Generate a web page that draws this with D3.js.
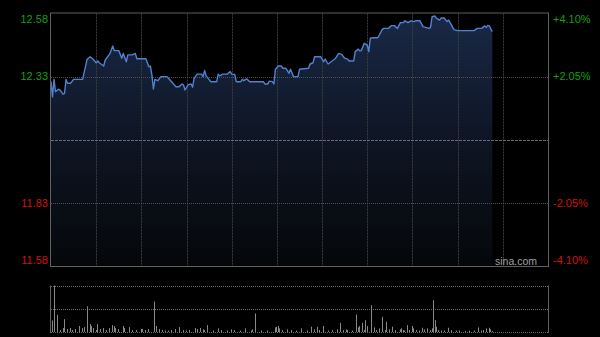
<!DOCTYPE html>
<html><head><meta charset="utf-8">
<script src="https://cdn.jsdelivr.net/npm/d3@7"></script>
<style>html,body{margin:0;padding:0;background:#000;}svg{display:block;}</style>
</head><body>
<script>
// ---- data ----
const priceMinutes = [0,1,2,3,5,6,8,9,10,11,13,15,21,24,26,28,30,31,32,35,36,39,41,42,45,47,48,50,51,54,56,57,63,65,66,67,68,69,71,73,77,79,83,85,87,88,89,91,93,94,95,97,100,101,102,103,104,106,110,111,112,114,117,119,120,122,123,126,127,128,130,132,141,142,144,145,147,148,149,151,153,154,156,158,159,161,164,165,171,172,174,175,179,181,182,184,186,189,191,193,195,197,198,201,202,204,205,206,208,210,211,212,214,217,218,220,221,224,226,228,230,232,234,235,237,239,241,242,245,247,251,252,253,255,256,258,259,261,263,264,266,267,268,270,281,283,286,288,289,290,291,293];
const prices = [12.310,12.250,12.319,12.270,12.280,12.277,12.261,12.264,12.319,12.304,12.304,12.319,12.319,12.399,12.409,12.399,12.385,12.392,12.385,12.372,12.396,12.420,12.451,12.433,12.433,12.403,12.422,12.389,12.416,12.416,12.422,12.401,12.401,12.369,12.372,12.336,12.281,12.319,12.314,12.330,12.330,12.317,12.290,12.290,12.301,12.297,12.277,12.297,12.301,12.288,12.323,12.340,12.340,12.330,12.354,12.333,12.326,12.310,12.310,12.340,12.333,12.340,12.340,12.350,12.340,12.339,12.310,12.310,12.319,12.314,12.321,12.310,12.310,12.301,12.301,12.312,12.310,12.301,12.359,12.372,12.372,12.363,12.363,12.343,12.359,12.330,12.330,12.359,12.363,12.380,12.385,12.409,12.409,12.389,12.399,12.380,12.389,12.403,12.422,12.418,12.403,12.399,12.392,12.392,12.429,12.439,12.432,12.433,12.462,12.455,12.429,12.482,12.484,12.484,12.495,12.517,12.521,12.521,12.532,12.532,12.521,12.544,12.544,12.551,12.544,12.551,12.548,12.551,12.551,12.528,12.521,12.525,12.567,12.570,12.561,12.554,12.562,12.562,12.548,12.554,12.534,12.521,12.515,12.512,12.512,12.521,12.521,12.531,12.525,12.533,12.531,12.508];
const volMinutes = [0,1,3,5,7,8,10,12,13,15,18,20,21,23,25,26,27,29,30,32,34,36,38,40,41,42,44,47,48,51,53,56,59,60,62,64,68,69,71,73,75,77,79,82,84,87,89,91,95,96,98,100,101,103,107,110,112,116,119,121,125,128,132,133,135,139,143,148,149,150,151,153,156,159,162,165,169,172,174,176,177,180,183,186,189,191,193,195,196,199,202,203,204,206,207,208,209,212,214,215,217,219,221,222,224,226,228,231,232,233,234,236,237,239,240,242,244,246,247,249,251,252,253,254,255,256,258,260,263,265,268,270,274,277,280,283,285,286,288,290,291,292];
const volumes = [117,480,173,20,40,130,30,40,20,30,60,40,50,260,80,60,40,20,80,30,40,20,40,70,60,40,30,60,40,50,20,20,30,30,20,30,307,60,30,20,15,15,20,30,50,20,15,20,40,30,40,27,20,70,15,37,20,15,27,20,15,37,15,27,187,15,15,47,53,60,37,20,27,20,15,37,15,53,27,53,20,60,15,20,27,93,20,27,20,15,177,47,60,93,20,120,60,270,47,20,37,153,20,103,27,53,20,27,37,20,15,70,20,60,37,20,15,43,27,37,20,37,320,120,53,20,15,15,43,20,15,15,10,15,15,47,15,20,37,43,27,10];
const priceTicks = [12.58, 12.33, 12.08, 11.83, 11.58];
const pctLabels = ["+4.10%", "+2.05%", "", "-2.05%", "-4.10%"];
const prevClose = 12.08;
const gridMinutes = [30,60,90,120,150,180,210,240,270,300];
const totalMinutes = 330;
const volMax = 470;

// ---- layout ----
const W = 600, H = 337;
const L = 51, R = 548, T = 13.5, B = 266;
const VT = 285.5, VB = 332;

const svg = d3.select("body").append("svg").attr("width", W).attr("height", H)
  .style("background", "#000");

const x = d3.scaleLinear().domain([0, totalMinutes]).range([L, R]);
const y = d3.scaleLinear().domain([11.58, 12.58]).range([B, T]);
const yv = d3.scaleLinear().domain([0, volMax]).range([VB, VT]).clamp(true);

const defs = svg.append("defs");
const grad = defs.append("linearGradient").attr("id", "fillGrad")
  .attr("gradientUnits", "userSpaceOnUse").attr("x1", 0).attr("x2", 0).attr("y1", T).attr("y2", B);
grad.append("stop").attr("offset", "0%").attr("stop-color", "#1a2946");
grad.append("stop").attr("offset", "50%").attr("stop-color", "#0e1524");
grad.append("stop").attr("offset", "100%").attr("stop-color", "#05070a");

const pts = priceMinutes.map((m, i) => [m, prices[i]]);

// area
svg.append("path").datum(pts)
  .attr("fill", "url(#fillGrad)")
  .attr("d", d3.area().x(d => x(d[0])).y0(B).y1(d => y(d[1])));

// vertical grid
const gridG = svg.append("g");
gridG.selectAll("line.v").data(gridMinutes).join("line")
  .attr("x1", d => Math.round(x(d)) + 0.5).attr("x2", d => Math.round(x(d)) + 0.5)
  .attr("y1", T).attr("y2", B)
  .attr("stroke", "#3c3c3c").attr("stroke-width", 1).attr("stroke-dasharray", "2,1");

// horizontal grid
gridG.selectAll("line.h").data(priceTicks.slice(1, -1)).join("line")
  .attr("x1", L).attr("x2", R)
  .attr("y1", d => Math.round(y(d)) + 0.5).attr("y2", d => Math.round(y(d)) + 0.5)
  .attr("stroke", d => d === prevClose ? "#656a75" : "#505050")
  .attr("stroke-width", 1)
  .attr("stroke-dasharray", d => d === prevClose ? "3,1" : "1,1");

// price line
svg.append("path").datum(pts)
  .attr("fill", "none").attr("stroke", "#4f82d2").attr("stroke-width", 1.4)
  .attr("stroke-linejoin", "round")
  .attr("d", d3.line().x(d => x(d[0])).y(d => y(d[1])));

// frame
svg.append("rect").attr("x", L - 0.5).attr("y", T - 0.5).attr("width", R - L + 1).attr("height", B - T + 1)
  .attr("fill", "none").attr("stroke", "#606060").attr("stroke-width", 1);

// left labels
svg.append("g").selectAll("text").data(priceTicks.filter(d => d !== prevClose)).join("text")
  .attr("x", 48)
  .attr("y", d => Math.min(Math.max(y(d), T + 6), B - 6))
  .attr("dy", "0.35em")
  .attr("text-anchor", "end")
  .attr("font-family", "Liberation Sans, Arial, sans-serif").attr("font-size", 11)
  .attr("fill", d => d > prevClose ? "#10a010" : "#d01010")
  .text(d => d.toFixed(2));

// right labels
svg.append("g").selectAll("text").data(priceTicks.map((d, i) => ({v: d, t: pctLabels[i]})).filter(d => d.t)).join("text")
  .attr("x", 553)
  .attr("y", d => Math.min(Math.max(y(d.v), T + 6), B - 6))
  .attr("dy", "0.35em")
  .attr("font-family", "Liberation Sans, Arial, sans-serif").attr("font-size", 11)
  .attr("fill", d => d.v > prevClose ? "#10a010" : "#d01010")
  .text(d => d.t);

// watermark
svg.append("text").attr("x", 537).attr("y", 264.5).attr("text-anchor", "end")
  .attr("font-family", "Liberation Sans, Arial, sans-serif").attr("font-size", 10.5)
  .attr("fill", "#a0a0a0").text("sina.com");

// volume panel
const vg = svg.append("g");
[volMax, volMax / 2, 0].forEach(v => {
  vg.append("line").attr("x1", L).attr("x2", R)
    .attr("y1", Math.round(yv(v)) + 0.5).attr("y2", Math.round(yv(v)) + 0.5)
    .attr("stroke", "#6a6a6a").attr("stroke-width", 1).attr("stroke-dasharray", "1,1");
});
[L - 0.5, R + 0.5].forEach(xx => {
  vg.append("line").attr("x1", xx).attr("x2", xx).attr("y1", VT).attr("y2", VB + 1)
    .attr("stroke", "#606060").attr("stroke-width", 1);
});
vg.selectAll("rect.bar").data(volMinutes.map((m, i) => [m, volumes[i]])).join("rect")
  .attr("x", d => Math.round(x(d[0])) + 1)
  .attr("width", 1)
  .attr("y", d => yv(d[1]))
  .attr("height", d => VB - yv(d[1]))
  .attr("fill", "#888");
</script>
</body></html>
